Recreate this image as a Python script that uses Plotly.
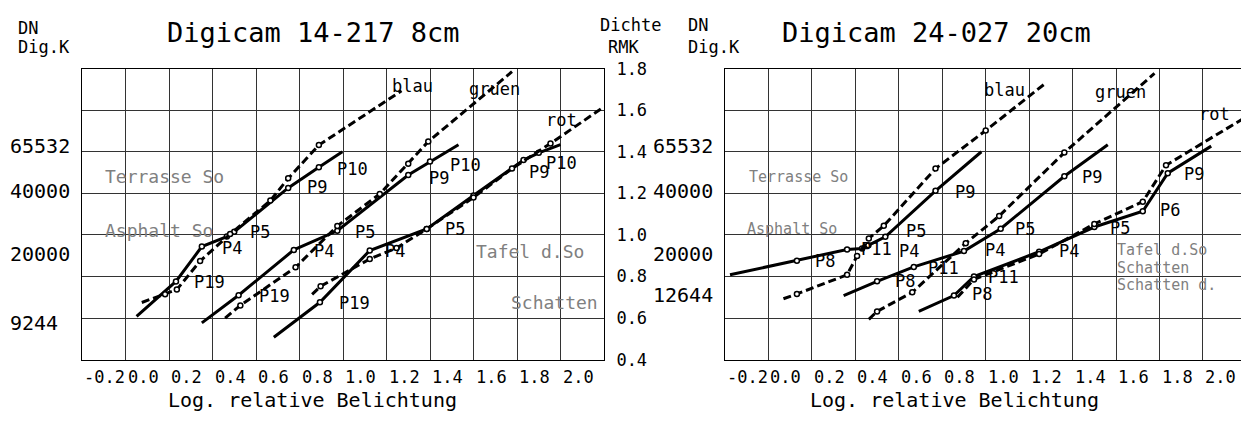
import math
import plotly.graph_objects as go

W, H = 1241, 423
FONT = "DejaVu Sans Mono"

# ---------------- data: left panel (Digicam 14-217 8cm) ----------------
L_blau_solid_x = [0.051, 0.232, 0.351, 0.466, 0.500, 0.748, 0.889, 0.997]
L_blau_solid_y = [0.608, 0.776, 0.944, 0.992, 1.015, 1.226, 1.325, 1.400]
L_blau_dash_x = [0.075, 0.182, 0.236, 0.343, 0.481, 0.666, 0.748, 0.889, 1.269]
L_blau_dash_y = [0.675, 0.714, 0.737, 0.874, 1.004, 1.165, 1.272, 1.432, 1.693]

L_gruen_solid_x = [0.351, 0.520, 0.774, 0.974, 1.300, 1.400, 1.531]
L_gruen_solid_y = [0.577, 0.710, 0.928, 1.020, 1.288, 1.353, 1.434]
L_gruen_dash_x = [0.458, 0.528, 0.782, 0.974, 1.169, 1.300, 1.392, 1.777]
L_gruen_dash_y = [0.600, 0.661, 0.844, 1.043, 1.197, 1.342, 1.449, 1.785]

L_rot_solid_x = [0.682, 0.894, 1.123, 1.385, 1.600, 1.830, 1.900, 2.000]
L_rot_solid_y = [0.508, 0.676, 0.925, 1.029, 1.190, 1.360, 1.395, 1.434]
L_rot_dash_x = [0.858, 0.897, 1.123, 1.246, 1.385, 1.600, 1.777, 1.954, 2.192]
L_rot_dash_y = [0.714, 0.753, 0.884, 0.937, 1.029, 1.180, 1.319, 1.440, 1.610]

# ---------------- data: right panel (Digicam 24-027 20cm) ----------------
R_blau_solid_x = [-0.177, 0.131, 0.362, 0.431, 0.460, 0.538, 0.769, 0.980]
R_blau_solid_y = [0.808, 0.876, 0.930, 0.935, 0.950, 0.991, 1.212, 1.400]
R_blau_dash_x = [0.069, 0.131, 0.362, 0.408, 0.462, 0.531, 0.769, 1.000, 1.277]
R_blau_dash_y = [0.693, 0.716, 0.808, 0.899, 0.983, 1.044, 1.319, 1.502, 1.731]

R_gruen_solid_x = [0.346, 0.500, 0.669, 0.900, 1.069, 1.362, 1.562]
R_gruen_solid_y = [0.708, 0.777, 0.846, 0.922, 1.030, 1.282, 1.434]
R_gruen_dash_x = [0.462, 0.500, 0.662, 0.908, 1.062, 1.362, 1.777]
R_gruen_dash_y = [0.594, 0.632, 0.724, 0.960, 1.091, 1.396, 1.777]

R_rot_solid_x = [0.692, 0.854, 0.946, 1.246, 1.500, 1.723, 1.838, 2.038]
R_rot_solid_y = [0.632, 0.708, 0.800, 0.919, 1.038, 1.114, 1.297, 1.427]
R_rot_dash_x = [0.870, 0.946, 1.246, 1.500, 1.723, 1.830, 2.180]
R_rot_dash_y = [0.700, 0.786, 0.908, 1.053, 1.160, 1.335, 1.556]

# ---------------- axis values / labels ----------------
x_ticks = [-0.2, 0.0, 0.2, 0.4, 0.6, 0.8, 1.0, 1.2, 1.4, 1.6, 1.8, 2.0]
density_ticks = [0.4, 0.6, 0.8, 1.0, 1.2, 1.4, 1.6, 1.8]
L_dn_labels = [65532, 40000, 20000, 9244]
R_dn_labels = [65532, 40000, 20000, 12644]
DN_OFFSET = 3.391  # density = log10(DN) - offset

titles = ["Digicam 14-217 8cm", "Digicam 24-027 20cm"]
x_title = "Log. relative Belichtung"

# curve / point labels (text, x, density)
L_labels = [("blau", 1.218, 1.715), ("gruen", 1.572, 1.701), ("rot", 1.922, 1.555),
            ("P10", 0.965, 1.316), ("P9", 0.826, 1.229), ("P5", 0.564, 1.013),
            ("P4", 0.435, 0.935), ("P19", 0.306, 0.775),
            ("P19", 0.606, 0.706), ("P4", 0.859, 0.922), ("P5", 1.047, 1.013),
            ("P9", 1.388, 1.275), ("P10", 1.485, 1.334),
            ("P19", 0.974, 0.674), ("P4", 1.185, 0.922), ("P5", 1.462, 1.027),
            ("P9", 1.848, 1.302), ("P10", 1.922, 1.348)]
L_grey = [("Terrasse So", -0.103, 1.279), ("Asphalt So", -0.103, 1.022),
          ("Tafel d.So", 1.600, 0.922), ("Schatten", 1.761, 0.674)]

R_labels = [("blau", 0.983, 1.697), ("gruen", 1.494, 1.688), ("rot", 1.973, 1.582),
            ("P9", 0.849, 1.206), ("P5", 0.625, 1.017), ("P4", 0.592, 0.922),
            ("P11", 0.418, 0.931), ("P8", 0.205, 0.876),
            ("P8", 0.573, 0.779), ("P11", 0.725, 0.839), ("P4", 0.988, 0.926),
            ("P5", 1.126, 1.027), ("P9", 1.434, 1.279),
            ("P8", 0.928, 0.715), ("P11", 1.000, 0.798), ("P4", 1.328, 0.922),
            ("P5", 1.563, 1.032), ("P6", 1.793, 1.119), ("P9", 1.904, 1.293)]
R_grey = [("Terrasse So", -0.099, 1.279), ("Asphalt So", -0.108, 1.027),
          ("Tafel d.So", 1.595, 0.926), ("Schatten", 1.595, 0.840),
          ("Schatten d.", 1.595, 0.760)]

fig = go.Figure()


def add_curve(xs, ys, dashed, xa, ya):
    fig.add_trace(go.Scatter(
        x=xs, y=ys, mode="lines", xaxis=xa, yaxis=ya, showlegend=False,
        line=dict(color="black", width=3, dash="8px,4px" if dashed else "solid"),
        hoverinfo="skip"))
    fig.add_trace(go.Scatter(
        x=xs[1:-1], y=ys[1:-1], mode="markers", xaxis=xa, yaxis=ya, showlegend=False,
        marker=dict(symbol="circle", size=5, color="white",
                    line=dict(color="black", width=1.5)),
        hoverinfo="skip"))


for xs, ys, d in [(L_blau_solid_x, L_blau_solid_y, False), (L_blau_dash_x, L_blau_dash_y, True),
                  (L_gruen_solid_x, L_gruen_solid_y, False), (L_gruen_dash_x, L_gruen_dash_y, True),
                  (L_rot_solid_x, L_rot_solid_y, False), (L_rot_dash_x, L_rot_dash_y, True)]:
    add_curve(xs, ys, d, "x", "y")

for xs, ys, d in [(R_blau_solid_x, R_blau_solid_y, False), (R_blau_dash_x, R_blau_dash_y, True),
                  (R_gruen_solid_x, R_gruen_solid_y, False), (R_gruen_dash_x, R_gruen_dash_y, True),
                  (R_rot_solid_x, R_rot_solid_y, False), (R_rot_dash_x, R_rot_dash_y, True)]:
    add_curve(xs, ys, d, "x2", "y2")

GRID = "#333333"
ydom = [1 - 367 / H, 1 - 61.5 / H]
px_per_unit = 43.45 / 0.2
r_xmax = -0.2 + (W - 725) / px_per_unit

common_x = dict(tick0=-0.2, dtick=0.2, showgrid=True, gridcolor=GRID, gridwidth=1,
                showticklabels=False, ticks="", showline=True, linecolor="black",
                linewidth=1, mirror=True, zeroline=False, fixedrange=True)
common_y = dict(range=[0.4, 1.8], tick0=0.4, dtick=0.2, showgrid=True, gridcolor=GRID,
                gridwidth=1, ticks="", showline=True, linecolor="black", linewidth=1,
                zeroline=False, domain=ydom, fixedrange=True)

fig.update_layout(
    width=W, height=H, margin=dict(l=0, r=0, t=0, b=0),
    paper_bgcolor="white", plot_bgcolor="white",
    font=dict(family=FONT, color="black", size=17),
    xaxis=dict(domain=[82 / W, 604 / W], range=[-0.2, 2.2], anchor="y", **common_x),
    yaxis=dict(anchor="x", side="right", mirror=True, showticklabels=True,
               tickvals=density_ticks, ticktext=[f"{v:.1f}" for v in density_ticks],
               tickfont=dict(family=FONT, size=17), ticklabelstandoff=8, **common_y),
    xaxis2=dict(domain=[725 / W, 1.0], range=[-0.2, r_xmax], anchor="y2", **common_x),
    yaxis2=dict(anchor="x2", mirror=False, showticklabels=False, **common_y),
)

ann = []


def text(t, x, y, xref, yref, size, color="black", xanchor="left", yanchor="middle"):
    ann.append(dict(text=t, x=x, y=y, xref=xref, yref=yref, showarrow=False,
                    xanchor=xanchor, yanchor=yanchor,
                    font=dict(family=FONT, size=size, color=color)))


# x tick labels (left aligned at gridlines)
for xa in ["x", "x2"]:
    for v in x_ticks:
        text(f"{v:.1f}", v, 1 - 385 / H, xa, "paper", 17)

# DN labels on the left of each panel
for v in L_dn_labels:
    text(str(v), 8 / W, math.log10(v) - DN_OFFSET, "paper", "y", 20)
for v in R_dn_labels:
    text(str(v), 651 / W, math.log10(v) - DN_OFFSET, "paper", "y2", 20)

# titles and axis headers
text(titles[0], 165 / W, 1 - 24 / H, "paper", "paper", 27)
text(titles[1], 780 / W, 1 - 24 / H, "paper", "paper", 27)
text(x_title, 166 / W, 1 - 409 / H, "paper", "paper", 20)
text(x_title, 808 / W, 1 - 409 / H, "paper", "paper", 20)
text("DN", 16 / W, 1 - 19 / H, "paper", "paper", 17)
text("Dig.K", 16 / W, 1 - 39 / H, "paper", "paper", 17)
text("Dichte", 598 / W, 1 - 16 / H, "paper", "paper", 17)
text("RMK", 606 / W, 1 - 39 / H, "paper", "paper", 17)
text("DN", 686 / W, 1 - 16 / H, "paper", "paper", 17)
text("Dig.K", 686 / W, 1 - 39 / H, "paper", "paper", 17)

# curve labels
for t, x, y in L_labels:
    text(t, x, y, "x", "y", 17)
for t, x, y in R_labels:
    text(t, x, y, "x2", "y2", 17)
for t, x, y in L_grey:
    text(t, x, y, "x", "y", 18, color="#808080")
for t, x, y in R_grey:
    text(t, x, y, "x2", "y2", 15, color="#808080")

fig.update_layout(annotations=ann)
fig.write_html("out.html")
